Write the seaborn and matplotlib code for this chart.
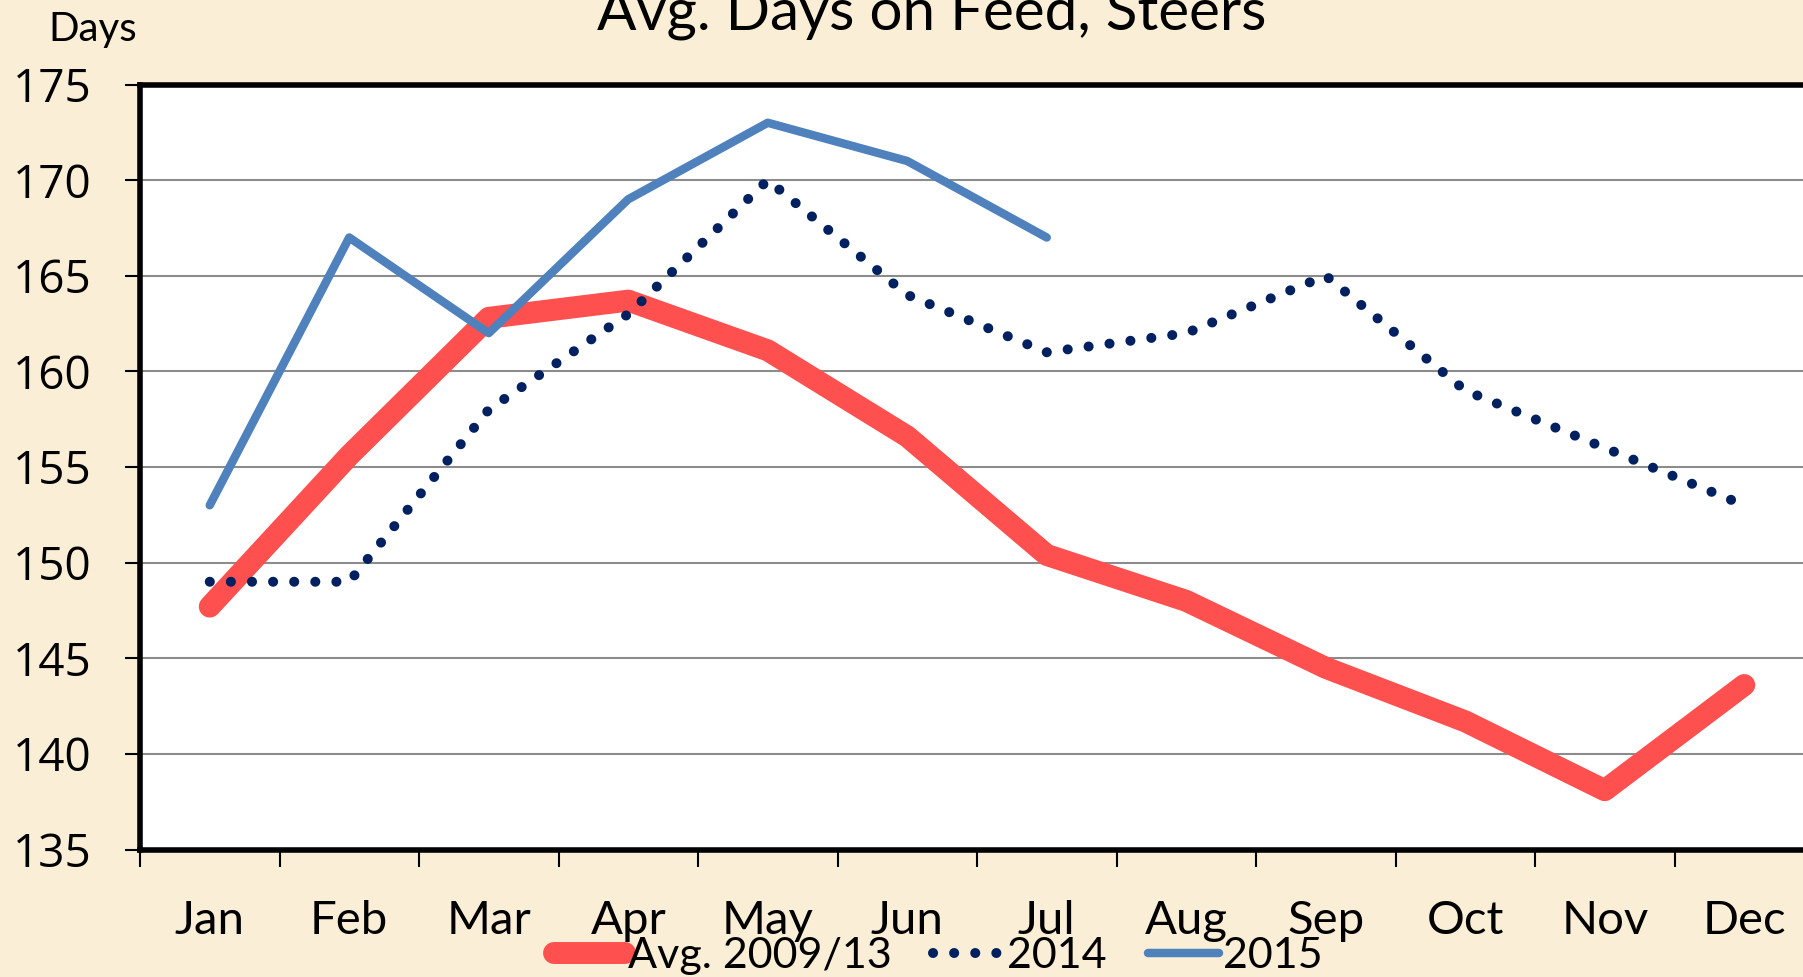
import numpy as np
import pandas as pd
import matplotlib
matplotlib.use("Agg")
import matplotlib.pyplot as plt
import seaborn as sns

# ---- data -------------------------------------------------------------
months = ["Jan", "Feb", "Mar", "Apr", "May", "Jun",
          "Jul", "Aug", "Sep", "Oct", "Nov", "Dec"]
avg_2009_13 = [147.7, 155.6, 162.8, 163.7, 161.1, 156.6,
               150.4, 148.0, 144.5, 141.7, 138.1, 143.6]
y2014 = [149, 149, 158, 163, 170, 164, 161, 162, 165, 159, 156, 153]
y2015 = [153, 167, 162, 169, 173, 171, 167]
yticks = [135, 140, 145, 150, 155, 160, 165, 170, 175]

# ---- style ------------------------------------------------------------
sns.set_style("white")
plt.rcParams["font.family"] = ["Lato", "DejaVu Sans"]
plt.rcParams["text.color"] = "black"
plt.rcParams["legend.labelcolor"] = "black"

BG = "#FAEFD6"
W, H, DPI = 1803, 977, 100
fig = plt.figure(figsize=(W / DPI, H / DPI), dpi=DPI, facecolor=BG)

# plot area runs past the right edge of the canvas
left, right, top, bottom = 140, 1814, 84.5, 849.5
ax = fig.add_axes([left / W, 1 - bottom / H, (right - left) / W, (bottom - top) / H])
ax.set_facecolor("white")

pos = np.arange(1, 13)
df = pd.DataFrame({"pos": pos, "avg": avg_2009_13, "y14": y2014})
df15 = pd.DataFrame({"pos": pos[:len(y2015)], "y15": y2015})

sns.lineplot(data=df, x="pos", y="avg", ax=ax, color="#FF5050", lw=15.8,
             solid_capstyle="round", solid_joinstyle="round",
             label="Avg. 2009/13", sort=False, zorder=3)
sns.lineplot(data=df, x="pos", y="y14", ax=ax, color="#002060", lw=7.2,
             linestyle=(0, (0.01, 2.1)), dash_capstyle="round",
             label="2014", sort=False, zorder=4)
sns.lineplot(data=df15, x="pos", y="y15", ax=ax, color="#4F81BD", lw=6.1,
             solid_capstyle="round", solid_joinstyle="round",
             label="2015", sort=False, zorder=5)

ax.set_xlim(0.5, 12.5)
ax.set_ylim(135, 175)
ax.set_xlabel("")
ax.set_ylabel("")

# horizontal gridlines
ax.set_yticks(yticks)
ax.yaxis.grid(True, color="#8C8C8C", lw=1.5, zorder=1)
ax.xaxis.grid(False)
ax.set_axisbelow(True)

# y tick labels
ax.set_yticklabels([str(v) for v in yticks], fontfamily="Open Sans",
                   fontsize=33, color="black")
ax.tick_params(axis="y", which="major", direction="out", length=11,
               width=1.5, color="black", pad=24, left=True)

# x ticks: marks at category boundaries, labels at category centres
ax.set_xticks(np.arange(0.5, 13, 1))
ax.set_xticklabels([])
ax.set_xticks(pos, minor=True)
ax.set_xticklabels(months, minor=True, fontsize=34, color="black")
ax.tick_params(axis="x", which="major", direction="out", length=12,
               width=1.5, color="black", bottom=True)
ax.tick_params(axis="x", which="minor", length=0, pad=36)

for side in ["left", "top", "bottom"]:
    ax.spines[side].set_visible(True)
    ax.spines[side].set_color("black")
    ax.spines[side].set_linewidth(4)
ax.spines["right"].set_visible(False)

# legend along the bottom edge
handles, labels = ax.get_legend_handles_labels()
ax.get_legend().remove()
fig.legend(handles, labels, loc="center", ncol=3, frameon=False,
           bbox_to_anchor=(938 / W, 1 - 956 / H), fontsize=31,
           handlelength=1.65, handletextpad=0.08, columnspacing=0.95,
           borderpad=0, borderaxespad=0, labelcolor="black")

# titles
fig.text(932 / W, 1 - 29 / H, "Avg. Days on Feed, Steers", ha="center",
         va="baseline", fontsize=42, color="black")
fig.text(48 / W, 1 - 41 / H, "Days", ha="left", va="baseline",
         fontsize=29, color="black")

fig.savefig("out.png", dpi=DPI, facecolor=BG)
